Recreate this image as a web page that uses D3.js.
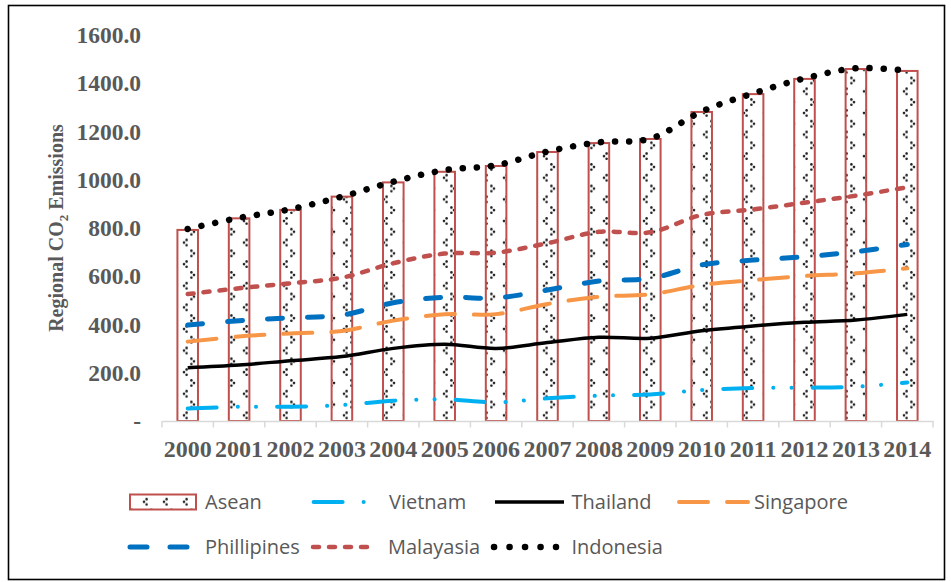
<!DOCTYPE html>
<html>
<head>
<meta charset="utf-8">
<script src="https://cdn.jsdelivr.net/npm/d3@7"></script>
<style>
body { margin: 0; background: #fff; }
</style>
</head>
<body>
<div id="display-container"></div>
<script>
var years = [2000, 2001, 2002, 2003, 2004, 2005, 2006, 2007, 2008, 2009, 2010, 2011, 2012, 2013, 2014];
var asean = [792, 840, 875, 930, 989, 1033, 1057, 1115, 1152, 1169, 1281, 1355, 1418, 1459, 1451];
var vietnam = [52, 59, 59, 66, 84, 90, 77, 94, 105, 110, 128, 137, 138, 142, 160];
var thailand = [221, 232, 250, 267, 301, 318, 301, 325, 347, 343, 374, 394, 409, 419, 442];
var singapore = [329, 350, 363, 373, 416, 442, 443, 485, 515, 525, 564, 584, 601, 612, 633];
var phillipines = [398, 416, 428, 439, 490, 513, 510, 543, 580, 591, 647, 667, 681, 702, 732];
var malayasia = [526, 550, 571, 594, 654, 694, 698, 737, 784, 782, 854, 877, 905, 934, 969];
var indonesia = [796, 842, 878, 930, 992, 1040, 1060, 1117, 1155, 1170, 1283, 1358, 1420, 1462, 1452];
var yTicks = [0, 200, 400, 600, 800, 1000, 1200, 1400, 1600];

function drawChart(){

    var width = 951;
    var height = 582;
    var svg = d3.select("#display-container").append("svg")
        .attr("width", width)
        .attr("height", height);

    // pattern for the Asean bars
    var defs = svg.append("defs");
    var pat = defs.append("pattern")
        .attr("id", "divot")
        .attr("patternUnits", "userSpaceOnUse")
        .attr("width", 20)
        .attr("height", 21.6);
    pat.append("rect").attr("width", 20).attr("height", 21.6).attr("fill", "#fff");
    function chevron(g, cx, cy, dir){
        [[dir * 2.6, -2.6], [0, 0], [dir * 2.6, 2.6]].forEach(function(p){
            g.append("circle").attr("cx", cx + p[0]).attr("cy", cy + p[1])
                .attr("r", 1.3).attr("fill", "#222");
        });
    }
    chevron(pat, 4, 5, 1);
    chevron(pat, 14, 15.8, -1);

    svg.append("rect")
        .attr("x", 8.5).attr("y", 5.5)
        .attr("width", 936).attr("height", 574)
        .attr("fill", "none")
        .attr("stroke", "#000")
        .attr("stroke-width", 1.6);

    var x = d3.scaleBand().domain(years).range([162, 933]).padding(0);
    var y = d3.scaleLinear().domain([0, 1600]).range([421, 35]);
    var cx = function(d, i){ return x(years[i]) + x.bandwidth() / 2; };

    // y axis labels only
    var yAxis = svg.append("g")
        .attr("transform", "translate(162,0)")
        .call(d3.axisLeft(y).tickValues(yTicks).tickSize(0).tickPadding(21)
            .tickFormat(function(d){ return d === 0 ? "-" : d3.format(".1f")(d); }));
    yAxis.select(".domain").remove();
    yAxis.selectAll("text")
        .attr("fill", "#595959")
        .style("font-family", "'Liberation Serif', 'Times New Roman', serif")
        .style("font-weight", "bold")
        .style("font-size", "23.5px");

    // bars
    var barW = x.bandwidth() * 0.4;
    svg.append("g").selectAll("rect")
        .data(asean)
        .enter().append("rect")
        .attr("x", function(d, i){ return cx(d, i) - barW / 2; })
        .attr("y", function(d){ return y(d); })
        .attr("width", barW)
        .attr("height", function(d){ return y(0) - y(d); })
        .attr("fill", "url(#divot)")
        .attr("stroke", "#C0504D")
        .attr("stroke-width", 2);

    // x axis
    var xAxis = svg.append("g")
        .attr("transform", "translate(0,421)")
        .call(d3.axisBottom(x).tickSize(0).tickPadding(0));
    xAxis.select(".domain")
        .attr("stroke", "#D9D9D9")
        .attr("stroke-width", 1.5);
    xAxis.selectAll("text")
        .attr("y", 35.7)
        .attr("dy", null)
        .attr("fill", "#595959")
        .style("font-family", "'Liberation Serif', 'Times New Roman', serif")
        .style("font-weight", "bold")
        .style("font-size", "24px");
    xAxis.selectAll(".bound")
        .data(d3.range(years.length + 1))
        .enter().append("line")
        .attr("class", "bound")
        .attr("x1", function(i){ return 162 + i * x.step(); })
        .attr("x2", function(i){ return 162 + i * x.step(); })
        .attr("y1", 0).attr("y2", 6.5)
        .attr("stroke", "#D9D9D9")
        .attr("stroke-width", 1.5);

    // lines
    var series = [
        {name: "Vietnam", values: vietnam, color: "#00B0F0", width: 4, dash: "29 21 0.1 18.2 0.1 21", cap: "round"},
        {name: "Thailand", values: thailand, color: "#000000", width: 3.5, dash: null, cap: "butt"},
        {name: "Singapore", values: singapore, color: "#F79646", width: 4, dash: "29 19", cap: "round"},
        {name: "Phillipines", values: phillipines, color: "#0070C0", width: 5, dash: "15 25", cap: "round"},
        {name: "Malayasia", values: malayasia, color: "#C0504D", width: 4.5, dash: "6 10", cap: "round"},
        {name: "Indonesia", values: indonesia, color: "#000000", width: 6.5, dash: "0.1 14", cap: "round"}
    ];

    var line = d3.line()
        .x(cx)
        .y(function(d){ return y(d); })
        .curve(d3.curveCatmullRom.alpha(0.5));

    svg.append("g").selectAll("path")
        .data(series)
        .enter().append("path")
        .attr("d", function(s){ return line(s.values); })
        .attr("fill", "none")
        .attr("stroke", function(s){ return s.color; })
        .attr("stroke-width", function(s){ return s.width; })
        .attr("stroke-dasharray", function(s){ return s.dash; })
        .attr("stroke-linecap", function(s){ return s.cap; });

    // y axis title
    var title = svg.append("text")
        .attr("transform", "translate(63,228) rotate(-90)")
        .attr("text-anchor", "middle")
        .attr("fill", "#595959")
        .style("font-family", "'Liberation Serif', 'Times New Roman', serif")
        .style("font-weight", "bold")
        .style("font-size", "20px");
    title.append("tspan").text("Regional CO");
    title.append("tspan").attr("dy", 5).style("font-size", "13px").text("2");
    title.append("tspan").attr("dy", -5).text(" Emissions");

    // legend
    var row1 = 502, row2 = 547;
    var lg = svg.append("g")
        .style("font-family", "'Open Sans', 'Liberation Sans', sans-serif")
        .style("font-size", "20px");
    lg.append("rect")
        .attr("x", 130).attr("y", row1 - 7.5)
        .attr("width", 66).attr("height", 15)
        .attr("fill", "url(#divot)")
        .attr("stroke", "#C0504D")
        .attr("stroke-width", 2);
    var legendPos = {
        "Vietnam": [313.6, 364, row1],
        "Thailand": [495, 564, row1],
        "Singapore": [679, 748, row1],
        "Phillipines": [130, 189, row2],
        "Malayasia": [313, 376, row2],
        "Indonesia": [494, 556, row2]
    };
    series.forEach(function(s){
        var p = legendPos[s.name];
        lg.append("line")
            .attr("x1", p[0]).attr("x2", p[1])
            .attr("y1", p[2]).attr("y2", p[2])
            .attr("stroke", s.color)
            .attr("stroke-width", s.width)
            .attr("stroke-dasharray", s.name === "Phillipines" ? "17 23" : (s.name === "Indonesia" ? "0.1 15.4" : s.dash))
            .attr("stroke-linecap", s.cap);
    });
    var labels = [["Asean", 205, row1], ["Vietnam", 389, row1], ["Thailand", 571.5, row1], ["Singapore", 754, row1],
                  ["Phillipines", 205, row2], ["Malayasia", 388, row2], ["Indonesia", 571.5, row2]];
    lg.selectAll(".lbl")
        .data(labels)
        .enter().append("text")
        .attr("class", "lbl")
        .attr("x", function(d){ return d[1]; })
        .attr("y", function(d){ return d[2] + 7; })
        .attr("fill", "#595959")
        .text(function(d){ return d[0]; });
}

drawChart();
</script>
</body>
</html>
